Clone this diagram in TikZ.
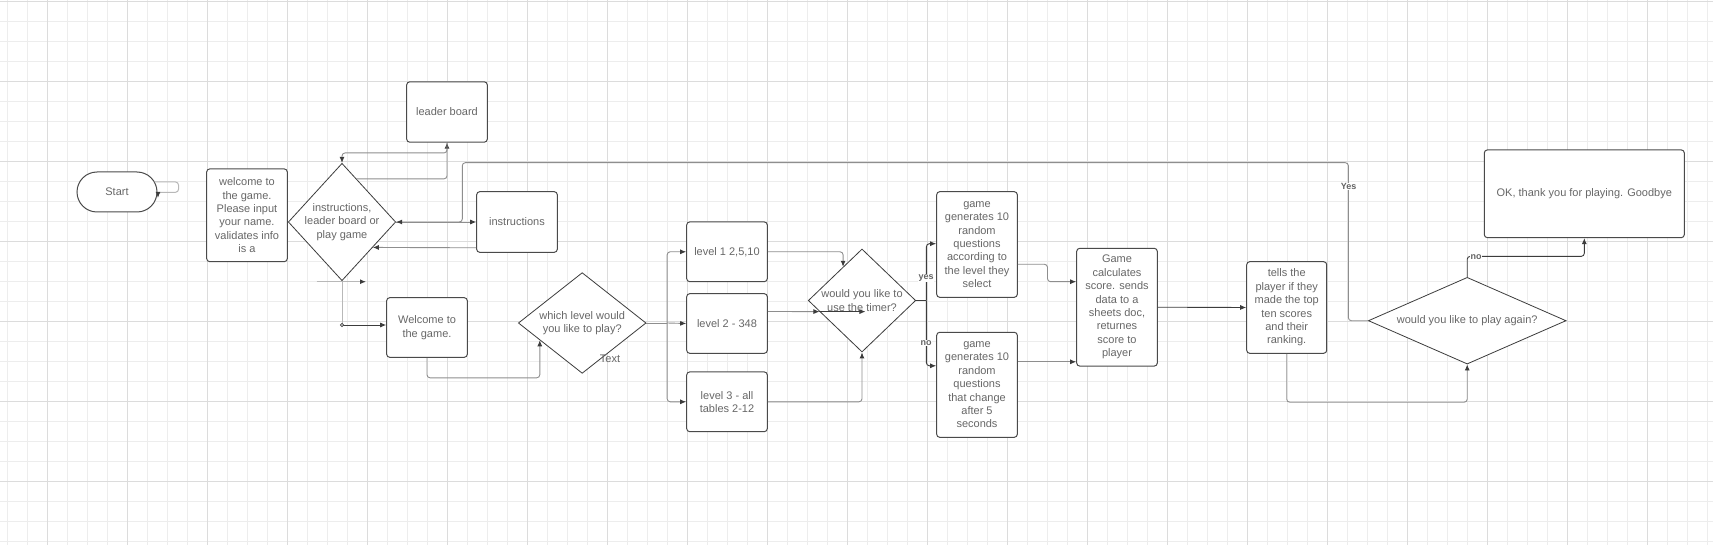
\documentclass[tikz,border=0pt]{standalone}
\usepackage{fontspec}
\setmainfont{Liberation Sans}
\usetikzlibrary{shapes.geometric,arrows.meta,calc}
\definecolor{gridminor}{HTML}{EDEDED}
\definecolor{gridmajor}{HTML}{DCDCDC}
\definecolor{boxline}{HTML}{4A4A4A}
\definecolor{txt}{HTML}{676767}
\definecolor{conn}{HTML}{8E8E8E}
\definecolor{darkconn}{HTML}{3C3C3C}
\definecolor{lightconn}{HTML}{B8B8B8}
\tikzset{
  box/.style={draw=boxline, line width=1pt, rounded corners=3pt, fill=white, align=center, text=txt,
    font=\fontsize{11}{13.4}\selectfont, inner sep=0pt},
  dia/.style={shape=diamond, draw=darkconn, line width=0.8pt, fill=white, inner sep=0pt},
  diatext/.style={align=center, text=txt, font=\fontsize{11}{13.4}\selectfont, inner sep=0pt},
  conn/.style={draw=conn, line width=0.9pt, rounded corners=3pt},
  dconn/.style={draw=darkconn, line width=0.9pt, rounded corners=3pt},
  lconn/.style={draw=lightconn, line width=1pt, rounded corners=3pt},
  arr/.style={-{Latex[length=6pt,width=5pt,color=darkconn]}},
  lab/.style={fill=white, text=darkconn!80, font=\fontsize{9}{10}\selectfont\bfseries, inner sep=0.5pt},
}
\begin{document}
\begin{tikzpicture}[x=1pt,y=-1pt]
\useasboundingbox (0,0) rectangle (1713,545);
\fill[white] (0,0) rectangle (1713,545);
% grid
\foreach \x in {7.7,27.7,...,1713} \draw[gridminor, line width=0.75pt] (\x,0) -- (\x,545);
\foreach \y in {1,21,...,545} \draw[gridminor, line width=0.75pt] (0,\y) -- (1713,\y);
\foreach \x in {47.7,127.7,...,1713} \draw[gridmajor, line width=0.8pt] (\x,0) -- (\x,545);
\foreach \y in {1,81,...,545} \draw[gridmajor, line width=0.8pt] (0,\y) -- (1713,\y);

% nodes
\node[box, rounded corners=20pt, minimum width=80, minimum height=40] (start) at (117,192) {Start};
\node[box, minimum width=80.6, minimum height=92.7] (welcome) at (247,215.3)
  {welcome to\\the game.\\Please input\\your name.\\validates info\\is a};
\node[dia, minimum width=107.4, minimum height=117.4,
  label={[diatext]center:instructions,\\leader board or\\play game}] (d1) at (342,222) {};
\node[box, minimum width=80.6, minimum height=60.3] (leader) at (447,112) {leader board};
\node[box, minimum width=80.6, minimum height=60.6] (instr) at (517,222) {instructions};
\node[box, minimum width=80.6, minimum height=59.6] (welcome2) at (427,327.5) {Welcome to\\the game.};
\node[dia, minimum width=127.7, minimum height=100.7,
  label={[diatext]center:which level would\\you like to play?}] (d2) at (582.2,323) {};
\node[diatext] (txtlab) at (610,359) {Text};
\node[box, minimum width=80.6, minimum height=59.7] (lv1) at (727,251.8) {level 1 2,5,10};
\node[box, minimum width=80.6, minimum height=59.6] (lv2) at (727,323.5) {level 2 - 348};
\node[box, minimum width=80.6, minimum height=59.7] (lv3) at (727,401.8) {level 3 - all\\tables 2-12};
\node[dia, minimum width=107.4, minimum height=103,
  label={[diatext]center:would you like to\\use the timer?}] (d3) at (862,300.5) {};
\node[box, minimum width=80.6, minimum height=105.6] (g1) at (977,244.5)
  {game\\generates 10\\random\\questions\\according to\\the level they\\select};
\node[box, minimum width=80.6, minimum height=105] (g2) at (977,384.8)
  {game\\generates 10\\random\\questions\\that change\\after 5\\seconds};
\node[box, minimum width=80.6, minimum height=117.7] (calc) at (1117,307.2)
  {Game\\calculates\\score. sends\\data to a\\sheets doc,\\returnes\\score to\\player};
\node[box, minimum width=80, minimum height=91.6] (tells) at (1286.7,307.5)
  {tells the\\player if they\\made the top\\ten scores\\and their\\ranking.};
\node[dia, minimum width=197.7, minimum height=86.7,
  label={[diatext]center:would you like to play again?}] (d4) at (1467.2,320.7) {};
\node[box, minimum width=200, minimum height=87.7] (ok) at (1584.3,193.8) {OK, thank you for playing. Goodbye};

% start self loop
\draw[lconn, arr] ($(start.east)+(-3,-10)$) -- ++(24,0) -- ++(0,10.3) -- ++(-20.5,0) -- ++(0,5.5);

% diamond 1 <-> leader board
\draw[conn, arr] ($(d1.north)!0.27!(d1.east)$) -| (leader.south);
\draw[conn, arr] (leader.south) -- ++(0,10.3) -| (d1.north);
% diamond 1 <-> instructions
\draw[conn, arr] (d1.east) -- (instr.west);
\draw[conn, arr] ($(instr.south west)+(0,-5)$) -- ($(d1.east)!0.43!(d1.south)$);
% dangling arrow under diamond 1
\coordinate (dangA) at (316.7,281.7);
\coordinate (dangB) at (366,281.7);
\draw[lconn, arr] (dangA) -- (dangB);
% diamond 1 -> welcome2
\coordinate (j1) at ($(d1.south |- welcome2.west)+(0,-2.5)$);
\draw[lconn] (d1.south) -- (j1);
\draw[dconn, arr] (j1) -- ($(welcome2.west)+(0,-2.5)$);
\draw[darkconn, fill=white, line width=0.6pt] (j1) circle (1.6);
% welcome2 -> d2
\draw[conn, arr] (welcome2.south) -- ++(0,20) -| ($(d2.west)!0.34!(d2.south)$);
% d2 -> levels
\coordinate (br) at ($(d2.east)+(20.7,0)$);
\draw[conn] (d2.east) -- (br);
\draw[conn, arr] (br) |- (lv1.west);
\draw[conn, arr] (br) -- (lv2.west);
\draw[conn, arr] (br) |- (lv3.west);
% levels -> d3
\draw[conn, arr] (lv1.east) -| ($(d3.north)!0.35!(d3.west)$);
\coordinate (l2o) at ($(lv2.east)+(0,-12)$);
\coordinate (l2e) at ($(d3.west)!0.214!(d3.south)$);
\draw[conn, arr] (l2o) -- (l2e);
\coordinate (l2in) at ($(l2e)+(46,0)$);
\draw[dconn, arr] (l2e) -- (l2in);
\draw[conn, arr] (lv3.east) -| (d3.south);
% d3 -> g1, g2
\coordinate (br2) at ($(d3.east)+(10.3,0)$);
\draw[dconn] (d3.east) -- (br2);
\draw[dconn, arr] (br2) |- ($(g1.west)+(0,-0.8)$);
\draw[dconn, arr] (br2) |- ($(g2.west)+(0,-19)$);
\node[lab] (yeslab) at (926,278.3) {yes};
\node[lab] (nolab2) at (926,343.3) {no};
% g1, g2 -> calc
\draw[conn, arr] ($(g1.east)+(0,19.8)$) -- ++(29.7,0) |- ($(calc.west)+(0,-25.5)$);
\coordinate (g2o) at ($(g2.east)+(0,-23)$);
\draw[conn, arr] (g2o) -- (calc.west |- g2o);
% calc -> tells
\draw[dconn, arr] (calc.east) -- (tells.west);
% tells -> d4
\draw[conn, arr] (tells.south) -- ++(0,48.4) -| (d4.south);
% yes loop
\coordinate (ytop) at (462.3,162.7);
\draw[conn, arr] (d4.west) -- ++(-19.6,0) |- (ytop) |- (d1.east);
\node[lab] (yeslab2) at (1348.7,186.7) {Yes};
% no -> ok
\draw[dconn, arr] (d4.north) -- ++(0,-20.6) -| (ok.south);
\node[lab] (nolab) at (1476,256.7) {no};
\end{tikzpicture}
\end{document}
